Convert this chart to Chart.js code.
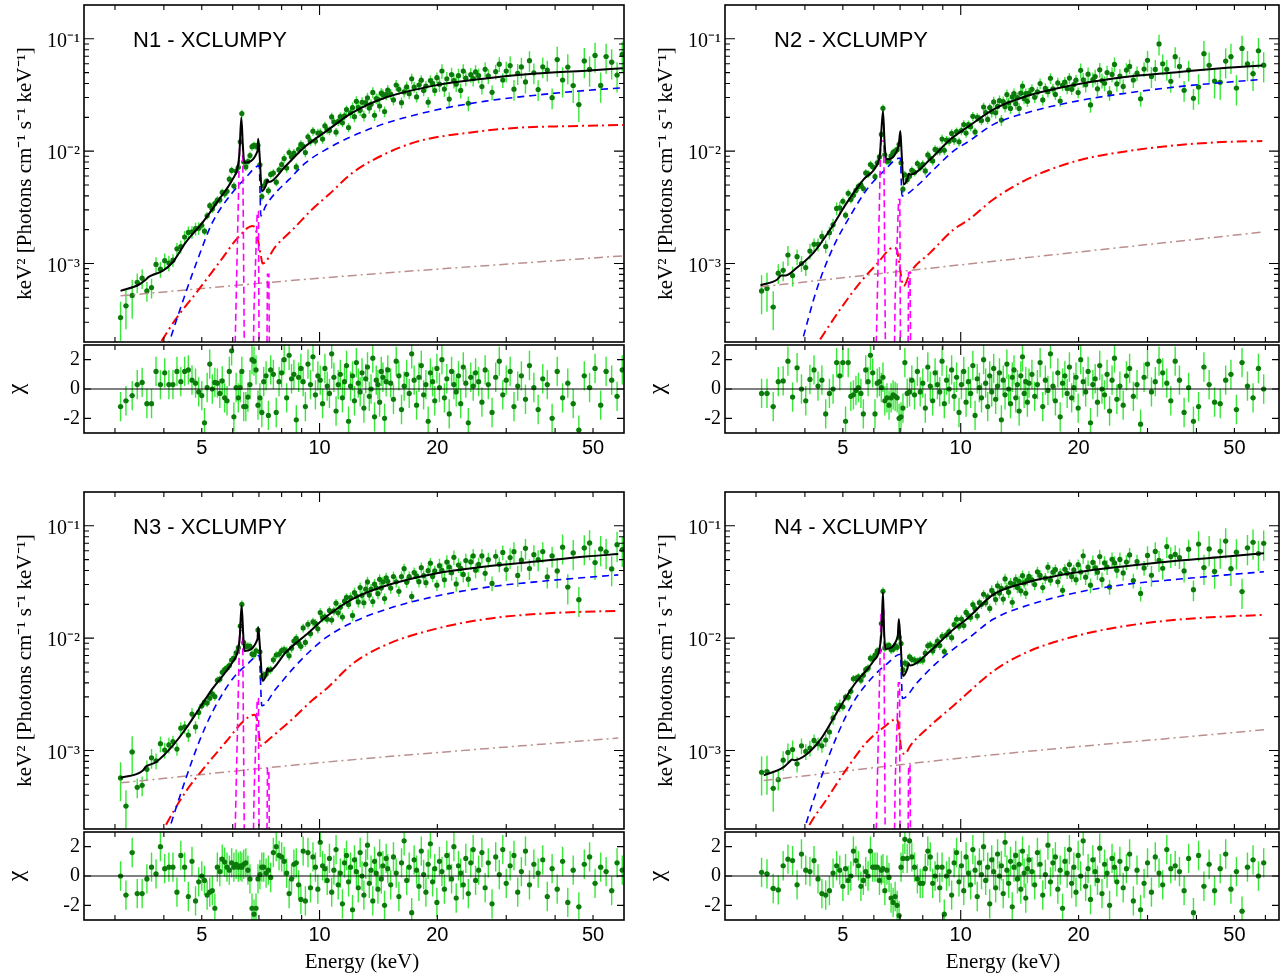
<!DOCTYPE html>
<html><head><meta charset="utf-8">
<script src="https://cdn.jsdelivr.net/npm/chart.js@4.4.1/dist/chart.umd.min.js"></script>
<style>
html,body{margin:0;padding:0;background:#fff;}
body{width:1288px;height:980px;position:relative;overflow:hidden;}
canvas{position:absolute;}
.ttl{position:absolute;font-family:"Liberation Sans",Arial,sans-serif;font-size:22px;line-height:22px;color:#000;white-space:nowrap;}
.xl{position:absolute;font-family:"Liberation Serif","Times New Roman",serif;font-size:21px;line-height:21px;color:#000;white-space:nowrap;transform:translateX(-50%);}
</style></head><body>
<script>
// ---------------- DATA (flux values in units of 1e-3 keV^2 Photons cm^-1 s^-1 keV^-1) ----------------
const FLUX_UNIT = 1e-3;
const panelTitles = ['N1 - XCLUMPY', 'N2 - XCLUMPY', 'N3 - XCLUMPY', 'N4 - XCLUMPY'];
const xTitle = 'Energy (keV)';
const yTitle = 'keV² [Photons cm⁻¹ s⁻¹ keV⁻¹]';
const chiTitle = 'χ';
const xTicks = [5, 10, 20, 50];
const xTickLabels = ['5', '10', '20', '50'];
const yTicks = [1e-3, 1e-2, 1e-1];
const yTickLabels = ['10⁻³', '10⁻²', '10⁻¹'];
const chiTicks = [-2, 0, 2];
const chiTickLabels = ['-2', '0', '2'];
const xMinorTicks = [3, 4, 5, 6, 7, 8, 9, 20, 30, 40, 50, 60];
const xMajorTicks = [10];
// relative 1-sigma size of the spectral error bars, by energy band [upper edge keV, fraction]
const relErrBands = [[3.4,0.38],[3.8,0.20],[4.2,0.16],[5.0,0.13],[8.0,0.08],[12,0.09],[20,0.11],[30,0.15],[40,0.21],[70,0.30]];

const energyKeV = [
 3.10,3.20,3.32,3.42,3.52,3.62,3.72,3.82,3.92,4.02,4.12,4.22,4.32,4.42,4.52,4.62,4.72,4.82,4.91,5.00,
 5.08,5.16,5.24,5.32,5.40,5.48,5.56,5.64,5.72,5.80,5.88,5.96,
 6.04,6.12,6.20,6.27,6.33,6.40,6.48,6.56,6.64,6.72,6.80,6.88,6.96,7.04,7.12,7.20,7.30,7.40,7.50,7.62,7.75,7.88,
 8.00,8.12,8.24,8.36,8.48,8.60,8.72,8.84,8.96,9.08,9.20,9.34,9.48,9.62,9.76,9.90,
 10.04,10.18,10.32,10.46,10.60,10.74,10.88,11.02,11.16,11.30,11.44,11.58,11.72,11.86,12.00,12.14,12.28,12.42,12.56,12.70,12.84,12.98,13.12,13.26,13.40,13.54,13.68,13.82,13.96,14.10,14.24,14.38,14.52,14.66,14.80,14.94,
 15.20,15.45,15.70,15.95,16.20,16.45,16.70,16.95,17.20,17.45,17.70,17.95,18.20,18.45,18.70,18.95,19.20,19.45,19.70,19.95,20.25,20.55,20.85,21.15,21.45,21.75,22.05,22.35,22.65,22.95,23.30,23.65,24.00,24.35,24.70,25.05,
 25.5,26.0,26.5,27.0,27.6,28.2,28.8,29.4,30.0,30.7,31.4,32.1,32.8,33.6,34.4,35.3,36.2,37.2,38.2,39.3,
 40.5,41.8,43.1,44.5,46.0,47.5,49.0,50.6,52.3,54.0,55.8,57.6,59.4];

const fluxN1 = [
 0.33,0.42,0.52,0.68,0.74,0.57,0.61,0.98,0.89,1.06,1.01,1.07,1.35,1.41,1.72,1.89,1.91,2.04,2.06,2.19,
 1.94,2.66,3.27,3.06,3.42,3.67,3.68,4.29,4.17,4.39,5.63,6.74,
 4.89,6.66,7.19,12.1,21.6,8.03,7.23,8.08,9.14,10.97,11.24,11.06,11.26,7.57,3.94,4.91,5.35,4.44,6.21,6.38,5.29,6.81,
 7.59,8.60,7.07,9.73,8.89,9.60,7.24,10.38,11.48,11.08,9.72,13.41,12.26,15.07,12.29,14.5,
 14.56,12.8,16.77,15.5,15.26,20.16,18.13,14.74,18.43,20.31,17.9,20.61,23.43,16.22,21.96,24.38,20.28,27.76,24.36,23.08,27.24,20.66,26.99,29.85,24.16,26.1,33.3,20.84,29.37,28.9,25.24,32.83,32.0,22.5,31.9,34.97,
 32.2,28.6,38.8,35.5,27.0,33.7,37.3,32.5,44.0,37.1,30.4,38.8,42.8,34.6,38.0,27.3,42.5,40.2,34.6,45.1,39.5,51.7,35.7,44.1,29.1,48.0,42.4,39.5,47.0,34.7,51.6,44.6,26.7,47.9,44.2,50.7,
 47.0,37.6,53.5,46.7,33.4,51.1,59.5,43.0,51.7,57.8,35.6,49.2,56.2,41.3,63.9,49.8,35.4,56.3,52.7,29.9,
 65.3,43.0,56.0,38.4,26.0,63.6,53.4,71.1,38.5,69.6,62.0,47.6,72.6];
const chiN1 = [
 -1.2,-0.8,-0.45,0.3,0.45,-1.0,-1.0,1.2,0.3,1.1,0.3,0.3,1.2,0.5,1.2,1.3,0.6,0.4,-0.2,-0.45,
 -2.3,0.1,1.7,0.0,0.45,0.4,-0.3,0.55,-0.6,-0.8,1.2,2.6,
 -1.9,0.1,-0.6,0.1,1.2,-1.2,-1.2,-0.55,0.3,2.0,1.9,1.3,-1.1,-0.6,-1.6,0.5,0.9,-1.8,1.3,1.0,-1.6,0.5,
 1.1,2.0,-0.6,2.3,0.7,1.0,-2.1,0.8,1.4,0.5,-1.2,1.7,0.3,2.2,-0.4,0.9,
 0.6,-1.0,1.4,0.2,-0.3,2.4,0.8,-1.5,0.3,1.0,-0.6,0.5,1.6,-2.2,0.2,0.9,-0.8,1.8,0.4,-0.2,1.1,-1.3,0.7,1.5,-0.5,0.0,2.1,-1.9,0.6,0.3,-0.9,1.2,0.8,-2.0,0.5,1.3,
 0.4,-0.7,1.9,0.9,-1.4,0.2,1.0,-0.3,2.4,0.6,-1.1,0.8,1.6,-0.4,0.3,-2.2,1.1,0.5,-0.8,1.4,0.1,2.0,-0.6,0.7,-1.7,1.2,0.3,-0.2,0.9,-1.0,1.5,0.4,-2.3,0.8,0.2,1.1,
 0.5,-0.9,1.3,0.3,-1.6,0.8,1.9,-0.4,0.6,1.2,-1.2,0.2,0.9,-0.7,1.6,0.1,-1.4,0.7,0.3,-2.0,
 1.2,-0.6,0.4,-1.0,-2.8,0.9,0.1,1.4,-1.1,1.2,0.6,-0.5,1.3];

const fluxN2 = [
 0.57,0.60,0.41,0.82,0.87,1.19,0.78,1.15,1.00,0.92,1.29,1.48,1.48,1.74,1.42,1.88,2.21,3.09,3.13,3.58,
 2.69,4.21,3.71,4.04,4.47,4.85,5.00,4.64,6.40,6.27,7.60,7.25,
 5.93,7.87,8.88,14.1,24.1,9.28,8.14,8.20,9.08,9.74,10.03,10.31,11.5,7.88,4.59,6.16,5.55,5.99,6.75,6.46,7.76,7.17,
 7.61,6.67,9.26,8.63,8.18,10.37,10.09,10.07,12.82,10.16,12.53,12.26,14.38,12.54,14.9,12.1,
 15.24,17.25,14.47,17.22,16.49,20.42,14.84,20.01,19.49,18.71,24.72,22.05,19.18,24.42,22.45,27.45,21.98,24.99,28.19,18.92,27.55,24.85,31.91,26.9,24.02,30.36,32.48,26.45,29.94,24.03,32.8,37.92,29.31,32.54,27.74,32.8,
 35.5,30.17,33.67,40.0,28.59,36.23,33.79,44.56,35.84,32.0,40.53,27.95,38.46,41.11,36.15,44.72,35.54,39.16,42.85,33.25,52.4,43.2,39.1,48.4,25.8,43.3,46.1,35.9,53.0,42.5,40.2,50.1,33.1,48.2,59.2,39.7,
 46.6,37.7,52.7,56.8,43.0,49.4,29.2,53.8,64.3,46.3,53.4,90.0,59.9,53.5,41.9,69.4,56.8,34.8,52.7,29.5,
 37.2,73.7,58.1,42.1,41.0,63.3,69.4,36.5,82.1,59.9,48.9,78.3,58.3];
const chiN2 = [
 -0.3,-0.3,-1.2,0.5,0.55,1.9,-0.55,1.45,0.0,-0.8,0.65,1.3,0.2,0.6,-1.7,-0.3,0.0,1.8,0.9,1.8,
 -2.2,1.8,-0.5,-0.4,-0.1,0.1,-0.3,-1.7,1.3,0.5,2.3,1.1,
 -1.7,0.4,0.5,0.1,0.8,-0.8,-0.6,-1.1,-0.6,-0.4,-0.5,-0.6,-2.0,-1.9,-1.3,1.8,-0.3,-0.2,0.6,-0.4,1.2,-0.2,
 0.4,-1.3,1.5,0.2,-0.8,1.1,0.3,-0.2,1.9,-1.0,0.6,0.0,1.3,-0.5,0.8,-1.6,
 0.3,1.2,-0.9,0.5,-0.3,1.6,-1.8,0.7,0.1,-0.6,2.0,0.4,-1.2,0.9,-0.2,1.4,-0.7,0.2,1.1,-2.1,0.6,-0.4,1.7,0.0,-1.0,0.8,1.3,-0.6,0.3,-1.5,0.9,2.2,-0.3,0.5,-0.9,0.4,
 1.0,-0.5,0.3,1.8,-1.2,0.6,-0.1,2.4,0.2,-0.8,1.1,-1.9,0.4,0.9,-0.3,1.5,-0.6,0.1,0.8,-1.3,2.0,0.5,-0.2,1.2,-2.3,0.3,0.7,-0.9,1.6,0.0,-0.4,1.0,-1.5,0.6,2.1,-0.7,
 0.2,-1.1,0.9,1.4,-0.5,0.3,-2.4,0.8,1.7,-0.2,0.5,1.9,1.1,0.4,-0.8,1.9,0.6,-1.6,0.1,-2.2,
 -1.2,1.5,0.3,-0.9,-1.0,0.6,1.0,-1.4,1.8,0.2,-0.6,1.4,0.0];

const fluxN3 = [
 0.57,0.32,0.97,0.47,0.49,0.68,0.86,0.81,1.15,1.01,1.12,1.20,1.03,1.58,1.62,1.37,2.11,1.62,2.18,2.50,
 2.69,2.64,2.92,3.20,3.02,4.22,4.31,4.97,5.26,5.43,5.70,6.38,
 6.64,7.40,8.22,12.8,20.0,9.11,8.43,8.50,8.45,7.22,7.12,7.70,11.8,7.57,4.53,4.69,4.78,5.18,5.25,6.41,7.08,7.21,
 7.73,7.89,7.67,6.96,8.14,9.43,9.98,9.03,8.46,12.34,9.17,13.29,10.95,13.96,13.57,12.1,
 16.9,15.22,15.45,14.74,17.62,14.47,17.46,20.46,16.82,18.83,15.42,21.4,23.03,19.97,22.99,15.93,25.39,23.65,21.01,28.19,24.06,20.66,27.29,31.68,24.16,27.35,21.17,30.24,28.06,24.89,33.39,28.01,31.65,22.5,34.43,32.07,
 27.9,35.4,31.7,26.1,35.3,41.5,31.4,35.4,23.5,38.4,35.9,31.8,42.4,36.0,31.2,39.9,46.5,35.3,39.8,29.6,44.2,40.2,33.1,47.6,43.0,38.2,52.4,30.4,44.8,41.8,36.9,49.0,33.5,47.7,54.0,40.2,
 45.3,54.0,37.8,50.0,30.7,53.6,45.4,58.0,40.8,52.1,58.9,36.2,49.4,63.0,41.7,55.4,50.0,59.0,35.1,53.9,
 39.7,64.5,28.5,57.4,22.0,63.5,70.4,47.1,62.3,58.7,41.3,68.0,61.5];
const chiN3 = [
 0.0,-1.3,1.6,-1.2,-1.2,-0.2,0.6,0.15,2.0,0.5,0.6,0.6,-1.1,1.4,0.6,-1.4,1.0,-1.7,-0.4,0.0,
 -0.3,-1.3,-1.1,-1.0,-2.2,0.6,0.3,1.15,0.95,0.6,0.4,0.9,
 0.6,0.8,0.6,0.7,0.6,0.8,0.9,0.4,-0.2,-2.2,-2.6,-2.2,-0.2,0.1,0.6,0.6,0.2,0.4,-0.1,1.6,2.0,1.4,
 1.3,1.0,0.2,-1.2,-0.2,0.8,0.9,-0.6,-1.6,1.7,-1.7,1.6,-0.8,1.3,0.6,-0.9,
 2.3,0.7,0.5,-0.3,1.2,-1.1,0.4,1.8,-0.6,0.2,-1.9,0.9,1.4,-0.4,0.6,-2.3,1.1,0.3,-0.8,1.6,0.0,-1.3,0.8,2.1,-0.5,0.4,-1.7,1.0,0.2,-0.9,1.5,-0.2,0.7,-2.0,1.2,0.5,
 -0.6,1.3,0.2,-1.4,0.9,2.4,-0.3,0.6,-2.5,1.1,0.4,-0.7,1.7,0.1,-1.1,0.8,2.2,-0.4,0.5,-1.8,1.0,0.3,-0.9,1.4,0.6,-0.2,2.0,-1.5,0.7,0.2,-0.6,1.2,-1.2,0.9,1.8,-0.3,
 0.4,1.6,-0.8,0.9,-1.9,1.3,0.1,1.8,-0.5,0.7,1.4,-1.1,0.3,1.7,-0.6,0.8,0.2,1.1,-1.4,0.5,
 -0.9,1.0,-1.8,0.4,-2.1,0.8,1.3,-0.5,0.6,0.3,-1.0,0.9,0.4];

const fluxN4 = [
 0.64,0.65,0.46,0.55,0.82,0.96,1.02,0.76,1.10,0.98,1.05,1.23,1.15,1.10,1.24,1.46,1.95,2.37,2.52,2.45,
 2.98,2.98,3.36,4.35,4.38,4.52,4.22,4.67,5.24,5.40,6.63,6.53,
 7.06,7.69,7.78,13.5,26.1,8.19,8.50,8.62,7.87,7.96,8.57,8.28,10.2,8.96,5.21,6.00,5.87,6.81,6.48,6.38,6.24,6.40,
 6.37,7.35,8.54,8.70,7.70,8.50,9.43,8.60,10.39,7.59,10.7,11.43,10.09,13.19,14.73,12.77,
 14.77,12.96,16.95,15.91,15.32,19.94,18.3,15.74,20.71,20.0,24.6,20.66,23.32,18.39,26.6,24.86,22.06,29.26,25.2,27.75,22.26,33.69,28.09,25.57,30.91,20.87,30.34,33.4,28.21,32.11,26.4,36.0,31.03,25.09,32.86,35.43,
 33.05,29.97,38.98,36.17,28.19,34.21,42.82,32.84,38.67,40.69,31.76,37.62,26.64,40.99,37.79,45.24,35.34,40.63,33.16,45.08,38.8,54.1,34.9,42.8,29.6,47.2,42.2,38.7,53.3,33.2,46.7,43.0,28.6,50.4,46.7,40.2,
 50.2,38.1,47.6,55.1,32.6,48.1,25.0,42.2,54.5,36.3,59.1,49.2,41.9,65.3,53.2,55.6,52.2,39.7,62.0,27.0,
 68.9,42.5,62.3,39.3,59.4,73.2,41.5,58.3,26.0,63.7,71.4,56.6,69.9];
const chiN4 = [
 0.25,0.15,-0.85,-0.95,0.7,1.15,1.05,-0.6,1.5,0.4,0.3,1.05,-0.2,-1.2,-1.3,-1.0,0.2,0.7,0.4,-0.7,
 0.5,-0.3,0.0,1.7,1.05,0.7,-0.7,-0.3,0.3,0.0,1.7,0.6,
 0.6,0.6,-0.3,0.4,0.5,-1.0,0.4,-0.1,-1.5,-1.8,-1.4,-2.0,-2.7,0.6,1.2,2.5,1.2,2.4,1.3,0.6,-0.2,-0.5,
 -0.5,0.5,1.7,1.3,-0.5,0.0,0.6,-0.8,0.6,-2.6,0.0,0.3,-1.3,0.9,1.6,-0.4,
 0.7,-1.0,1.3,0.2,-0.6,1.8,0.4,-1.4,0.9,0.1,2.0,-0.3,0.6,-1.9,1.1,0.3,-0.8,1.5,0.0,0.7,-1.2,2.3,0.4,-0.5,1.0,-2.1,0.6,1.4,-0.2,0.8,-0.9,1.7,0.2,-1.5,0.5,1.1,
 0.3,-0.6,1.6,0.8,-1.3,0.1,2.1,-0.4,0.9,1.3,-0.9,0.4,-2.2,1.0,0.2,1.8,-0.5,0.6,-1.1,1.4,0.0,2.4,-0.7,0.5,-1.6,1.1,0.3,-0.3,1.9,-1.2,0.8,0.2,-2.0,1.2,0.6,-0.4,
 1.0,-0.8,0.5,1.5,-1.7,0.4,-2.3,-0.5,0.9,-1.1,1.3,0.2,-0.6,1.8,0.5,0.7,0.3,-1.0,1.2,-2.5,
 1.4,-0.7,0.8,-1.0,0.5,1.5,-0.9,0.3,-2.4,0.6,1.1,0.0,0.9];

// model components [energy keV, flux x1e-3]
const totalN1 = [[3.10,0.57],[3.46,0.65],[3.60,0.72],[3.66,0.76],[3.71,0.78],[3.97,0.86],[4.21,1.02],[4.55,1.54],[5.02,2.31],[5.54,3.73],[5.99,5.6],[6.17,7.1],[6.24,9.5],[6.31,19.9],[6.37,11.0],[6.42,7.9],[6.94,10.0],[6.97,12.9],[7.03,9.0],[7.12,4.4],[7.30,5.0],[7.36,5.6],[7.42,5.3],[8.2,7.4],[9.22,11.1],[10.47,15.3],[12.13,22.0],[14.76,30.0],[19.8,38.5],[26.6,44.4],[35.7,49.0],[47.9,52.0],[59.6,54.8]];
const blueN1 = [[4.0,0.14],[4.13,0.2],[4.55,0.55],[4.92,1.17],[5.32,2.31],[5.99,4.28],[6.42,5.6],[7.01,7.4],[7.08,2.65],[7.28,3.25],[7.73,4.28],[8.36,5.6],[9.22,7.9],[10.47,10.5],[12.13,13.6],[14.76,17.7],[19.8,23.2],[26.6,27.9],[35.7,31.5],[47.9,34.7],[59.6,36.6]];
const redN1 = [[3.70,0.145],[3.93,0.2],[4.29,0.32],[4.92,0.59],[5.54,1.02],[6.24,1.76],[6.74,2.16],[6.87,2.0],[7.08,1.17],[7.15,1.0],[7.73,1.43],[8.53,2.0],[9.58,3.04],[10.58,4.13],[12.13,6.4],[14.76,9.5],[17.96,12.3],[24.1,14.6],[32.4,16.2],[43.5,16.7],[59.6,17.1]];
const brownN1 = [[3.10,0.515],[10.47,0.75],[59.6,1.17]];
const fekaN1 = [[6.06,0.1],[6.25,12.5],[6.36,12.5],[6.43,0.1]];
const fekbN1 = [[6.76,0.1],[6.80,0.4],[6.93,2.9],[6.98,2.9],[7.01,0.1]];
const nikaN1 = [[7.33,0.1],[7.36,0.8],[7.42,0.8],[7.45,0.1]];

const totalN2 = [[3.08,0.64],[3.40,0.72],[3.48,0.78],[3.56,0.78],[3.82,0.92],[4.21,1.25],[4.64,2.0],[5.12,3.48],[5.65,5.6],[6.11,7.6],[6.22,9.5],[6.33,22.8],[6.39,12.0],[6.45,8.45],[6.94,11.1],[7.01,15.1],[7.06,10.0],[7.15,5.06],[7.30,5.6],[7.36,6.3],[7.43,6.2],[8.36,8.45],[9.40,12.7],[10.47,16.6],[12.13,23.6],[14.76,31.0],[19.8,39.3],[26.6,46.0],[35.7,50.5],[47.9,55.2],[58.9,58.0]];
const blueN2 = [[3.82,0.14],[3.93,0.2],[4.29,0.59],[4.74,1.43],[5.22,2.65],[5.76,4.57],[6.36,6.65],[7.01,8.7],[7.08,4.0],[7.73,4.9],[8.36,6.4],[9.58,10.0],[10.47,12.2],[12.13,17.3],[14.76,22.0],[19.8,27.9],[26.6,32.9],[35.7,37.4],[47.9,41.1],[58.9,43.5]];
const redN2 = [[4.10,0.15],[4.33,0.2],[4.92,0.39],[5.54,0.68],[6.11,0.99],[6.74,1.39],[6.85,1.35],[7.15,0.63],[7.43,0.83],[8.36,1.25],[9.58,2.0],[10.47,2.45],[12.13,3.73],[14.76,5.6],[19.8,8.2],[26.6,10.0],[35.7,11.3],[47.9,12.1],[58.9,12.3]];
const brownN2 = [[3.08,0.62],[10.47,0.99],[58.9,1.9]];
const fekaN2 = [[6.06,0.1],[6.25,12.3],[6.36,12.3],[6.43,0.1]];
const fekbN2 = [[6.76,0.1],[6.80,0.5],[6.94,3.7],[6.99,3.7],[7.02,0.1]];
const nikaN2 = [[7.33,0.1],[7.36,0.83],[7.42,0.83],[7.46,0.1]];

const totalN3 = [[3.10,0.57],[3.53,0.66],[3.60,0.72],[3.66,0.74],[3.82,0.79],[4.21,1.10],[4.55,1.56],[4.92,2.34],[5.32,3.53],[5.99,6.1],[6.17,7.5],[6.25,10.0],[6.32,19.5],[6.38,11.0],[6.42,7.7],[6.94,9.8],[6.97,12.5],[7.03,9.0],[7.15,4.17],[7.30,4.7],[7.36,5.4],[7.43,5.1],[8.2,7.5],[9.40,11.3],[10.47,15.8],[12.13,22.3],[14.76,29.3],[19.8,37.7],[26.6,43.5],[35.7,48.1],[47.9,53.3],[58.0,56.0]];
const blueN3 = [[4.0,0.14],[4.13,0.2],[4.55,0.56],[4.92,1.19],[5.32,2.19],[5.99,4.33],[6.48,5.7],[7.01,7.0],[7.12,2.5],[7.73,3.53],[8.53,5.3],[9.58,8.0],[10.47,10.3],[12.13,13.8],[14.76,18.0],[19.8,23.6],[26.6,28.3],[35.7,31.7],[47.9,34.7],[58.0,36.6]];
const redN3 = [[3.85,0.15],[4.0,0.2],[4.55,0.43],[5.12,0.73],[5.76,1.19],[6.36,1.79],[6.81,2.08],[6.92,1.9],[7.08,1.1],[7.20,1.15],[7.43,1.26],[8.53,1.91],[9.58,2.8],[10.47,3.6],[12.13,5.9],[14.76,8.7],[19.8,12.1],[26.6,14.8],[35.7,16.4],[47.9,17.2],[58.0,17.5]];
const brownN3 = [[3.10,0.515],[10.47,0.79],[58.0,1.29]];
const fekaN3 = [[6.06,0.1],[6.25,11.7],[6.36,11.7],[6.43,0.1]];
const fekbN3 = [[6.76,0.1],[6.80,0.4],[6.93,2.9],[6.98,2.9],[7.01,0.1]];
const nikaN3 = [[7.33,0.1],[7.36,0.69],[7.42,0.69],[7.45,0.1]];

const totalN4 = [[3.14,0.60],[3.53,0.71],[3.66,0.80],[3.71,0.83],[3.76,0.82],[4.05,0.93],[4.39,1.26],[4.83,2.19],[5.32,3.77],[5.99,6.3],[6.20,8.0],[6.28,12.0],[6.33,25.5],[6.37,12.0],[6.42,8.0],[6.90,10.2],[6.95,14.8],[7.01,10.0],[7.12,4.6],[7.30,5.3],[7.36,5.9],[7.43,5.7],[8.36,7.7],[9.40,11.3],[10.47,15.3],[12.13,24.5],[14.76,31.3],[19.8,38.5],[26.6,43.9],[35.7,48.9],[47.9,53.3],[59.5,57.0]];
const blueN4 = [[3.88,0.14],[3.99,0.2],[4.39,0.56],[4.83,1.35],[5.32,2.69],[5.99,4.6],[6.48,5.9],[7.01,7.2],[7.10,2.9],[7.73,4.0],[8.53,5.7],[9.58,8.0],[10.47,10.0],[12.13,14.8],[14.76,19.5],[19.8,25.5],[26.6,30.2],[35.7,33.4],[47.9,36.6],[59.5,39.0]];
const redN4 = [[3.90,0.15],[4.05,0.2],[4.55,0.37],[5.12,0.69],[5.76,1.19],[6.36,1.61],[6.87,1.91],[7.08,0.97],[7.21,0.93],[7.43,1.1],[8.36,1.66],[9.58,2.5],[10.47,3.3],[12.13,5.1],[14.76,7.5],[19.8,10.5],[26.6,12.9],[35.7,14.6],[47.9,15.6],[59.5,16.1]];
const brownN4 = [[3.14,0.54],[10.47,0.87],[59.5,1.53]];
const fekaN4 = [[6.06,0.1],[6.26,17.6],[6.36,17.6],[6.42,0.1]];
const fekbN4 = [[6.76,0.1],[6.80,0.5],[6.93,4.0],[6.98,4.0],[7.00,0.1]];
const nikaN4 = [[7.33,0.1],[7.36,0.74],[7.42,0.74],[7.45,0.1]];

// ---------------- LAYOUT / STYLE ----------------
const panels = [
  {title: panelTitles[0], flux: fluxN1, chi: chiN1, total: totalN1, blue: blueN1, red: redN1, brown: brownN1, lines: [fekaN1, fekbN1, nikaN1], xMax: 60, areaLeft: 84, specTop: 5, areaW: 540, showX: false},
  {title: panelTitles[1], flux: fluxN2, chi: chiN2, total: totalN2, blue: blueN2, red: redN2, brown: brownN2, lines: [fekaN2, fekbN2, nikaN2], xMax: 65, areaLeft: 725, specTop: 5, areaW: 554, showX: false},
  {title: panelTitles[2], flux: fluxN3, chi: chiN3, total: totalN3, blue: blueN3, red: redN3, brown: brownN3, lines: [fekaN3, fekbN3, nikaN3], xMax: 60, areaLeft: 84, specTop: 492, areaW: 540, showX: true},
  {title: panelTitles[3], flux: fluxN4, chi: chiN4, total: totalN4, blue: blueN4, red: redN4, brown: brownN4, lines: [fekaN4, fekbN4, nikaN4], xMax: 65, areaLeft: 725, specTop: 492, areaW: 554, showX: true}
];
const AXW = 84, PADT = 5, PADR = 6, SPECH = 338, RESH = 90, XAXH = 30;
const SERIF = '"Liberation Serif","Times New Roman",serif';
const SANS = '"Liberation Sans",Arial,sans-serif';
const POINT_COLOR = '#0b7a0b';
const BAR_COLOR = 'rgba(20,228,20,0.85)';

Chart.defaults.color = '#000';

function relErrAt(e) { for (const [lim, r] of relErrBands) if (e < lim) return r; return relErrBands[relErrBands.length - 1][1]; }
function binEdges(i) {
  const n = energyKeV.length, e = energyKeV[i];
  const hi = i < n - 1 ? Math.sqrt(e * energyKeV[i + 1]) : e * e / Math.sqrt(e * energyKeV[i - 1]);
  const lo = i > 0 ? Math.sqrt(e * energyKeV[i - 1]) : e * e / hi;
  return [lo, hi];
}
const toPts = arr => arr.map(([e, f]) => ({x: e, y: f * FLUX_UNIT}));
function lineDs(pts, color, width, dash, smooth) {
  return {data: toPts(pts), showLine: true, pointRadius: 0, borderColor: color, backgroundColor: color,
    borderWidth: width, borderDash: dash, cubicInterpolationMode: smooth ? 'monotone' : 'default', tension: 0, clip: 0, fill: false};
}
function errPlugin(bars, dsIndex) {
  return {id: 'errbars', beforeDatasetDraw(chart, args) {
    if (args.index !== dsIndex) return;
    const {ctx, chartArea: a, scales: {x, y}} = chart;
    ctx.save();
    ctx.beginPath(); ctx.rect(a.left, a.top, a.right - a.left, a.bottom - a.top); ctx.clip();
    ctx.strokeStyle = BAR_COLOR; ctx.lineWidth = 1.4;
    ctx.beginPath();
    for (const b of bars) {
      const px = x.getPixelForValue(b.x), py = y.getPixelForValue(b.y);
      ctx.moveTo(px, y.getPixelForValue(b.yl)); ctx.lineTo(px, y.getPixelForValue(b.yh));
      ctx.moveTo(x.getPixelForValue(b.xl), py); ctx.lineTo(x.getPixelForValue(b.xh), py);
    }
    ctx.stroke(); ctx.restore();
  }};
}
function framePlugin(kind) {
  return {id: 'frame', afterDraw(chart) {
    const {ctx, chartArea: a, scales: {x, y}} = chart;
    ctx.save();
    ctx.strokeStyle = '#000'; ctx.lineWidth = 1.1;
    ctx.beginPath();
    const xt = (v, len) => { if (v <= x.min || v >= x.max) return; const px = x.getPixelForValue(v);
      ctx.moveTo(px, a.top); ctx.lineTo(px, a.top + len); ctx.moveTo(px, a.bottom); ctx.lineTo(px, a.bottom - len); };
    const yt = (v, len) => { if (v <= y.min || v >= y.max) return; const py = y.getPixelForValue(v);
      ctx.moveTo(a.left, py); ctx.lineTo(a.left + len, py); ctx.moveTo(a.right, py); ctx.lineTo(a.right - len, py); };
    xMinorTicks.forEach(v => xt(v, 5));
    xMajorTicks.forEach(v => xt(v, 10));
    if (kind === 'spec') {
      for (let d = 1e-4; d < 1; d *= 10) for (let k = 2; k <= 9; k++) yt(k * d, 5);
      yTicks.forEach(v => yt(v, 10));
    } else {
      chiTicks.forEach(v => yt(v, 7));
    }
    ctx.stroke();
    if (kind === 'res') {
      ctx.lineWidth = 1.2; ctx.beginPath();
      const p0 = y.getPixelForValue(0); ctx.moveTo(a.left, p0); ctx.lineTo(a.right, p0); ctx.stroke();
    }
    ctx.lineWidth = 1.6;
    ctx.strokeRect(a.left, a.top, a.right - a.left, a.bottom - a.top);
    ctx.restore();
  }};
}
function makeCanvas(left, top, w, h) {
  const c = document.createElement('canvas');
  c.width = w; c.height = h;
  c.style.left = left + 'px'; c.style.top = top + 'px';
  c.style.width = w + 'px'; c.style.height = h + 'px';
  document.body.appendChild(c);
  return c;
}
function baseOpts() {
  return {responsive: false, animation: false, devicePixelRatio: 1, events: [],
    plugins: {legend: {display: false}, tooltip: {enabled: false}, title: {display: false}}};
}
const fitY = s => { s.width = AXW; s.paddingTop = 0; s.paddingBottom = 0; };
const fitX = s => { s.height = XAXH; s.paddingLeft = 0; s.paddingRight = 0; };

function buildPanel(p) {
  const cw = AXW + p.areaW + PADR;
  const left = p.areaLeft - AXW;
  const bars = energyKeV.map((e, i) => {
    const [xl, xh] = binEdges(i); const f = p.flux[i] * FLUX_UNIT; const r = relErrAt(e);
    return {x: e, y: f, xl, xh, yl: f * (1 - r), yh: f * (1 + r)};
  });
  const rbars = energyKeV.map((e, i) => {
    const [xl, xh] = binEdges(i); const c = p.chi[i];
    return {x: e, y: c, xl, xh, yl: c - 1, yh: c + 1};
  });
  const specDatasets = [
    lineDs(p.total, '#000000', 2, [], true),
    lineDs(p.lines[0], '#ff00ff', 1.6, [7, 4], false),
    lineDs(p.lines[1], '#ff00ff', 1.6, [7, 4], false),
    lineDs(p.lines[2], '#ff00ff', 1.6, [7, 4], false),
    lineDs(p.blue, '#0000ff', 1.6, [7, 5], true),
    lineDs(p.red, '#ff0000', 2, [10, 4, 2, 4], true),
    lineDs(p.brown, '#bc8f8f', 1.5, [9, 4, 2, 4], true),
    {data: energyKeV.map((e, i) => ({x: e, y: p.flux[i] * FLUX_UNIT})), showLine: false, pointRadius: 2.6,
     pointStyle: 'circle', backgroundColor: POINT_COLOR, borderWidth: 0, clip: 0}
  ];
  const c1 = makeCanvas(left, p.specTop - PADT, cw, PADT + SPECH + 3);
  const o1 = baseOpts();
  o1.layout = {padding: {top: PADT, right: PADR, bottom: 3, left: 0}};
  o1.scales = {
    x: {type: 'logarithmic', min: 2.5, max: p.xMax, display: false},
    y: {type: 'logarithmic', min: 2e-4, max: 0.2,
      afterFit: fitY,
      afterBuildTicks: s => { s.ticks = yTicks.map(v => ({value: v})); },
      grid: {display: false, drawTicks: false}, border: {display: false},
      ticks: {callback: (v, i) => yTickLabels[i], font: {family: SERIF, size: 20}, color: '#000', padding: 4, autoSkip: false, labelOffset: 3},
      title: {display: true, text: yTitle, font: {family: SERIF, size: 21}, color: '#000', padding: {top: 13, bottom: 0}}
    }
  };
  new Chart(c1, {type: 'scatter', data: {datasets: specDatasets}, options: o1,
    plugins: [errPlugin(bars, specDatasets.length - 1), framePlugin('spec')]});

  const resDatasets = [
    {data: energyKeV.map((e, i) => ({x: e, y: p.chi[i]})), showLine: false, pointRadius: 2.6,
     pointStyle: 'circle', backgroundColor: POINT_COLOR, borderWidth: 0, clip: 0}
  ];
  const c2 = makeCanvas(left, p.specTop + SPECH - 2, cw, 2 + RESH + XAXH);
  const o2 = baseOpts();
  o2.layout = {padding: {top: 2, right: PADR, bottom: 0, left: 0}};
  o2.scales = {
    x: {type: 'logarithmic', min: 2.5, max: p.xMax,
      afterFit: fitX,
      afterBuildTicks: s => { s.ticks = xTicks.map(v => ({value: v})); },
      grid: {display: false, drawTicks: false}, border: {display: false},
      ticks: {callback: (v, i) => xTickLabels[i], font: {family: SANS, size: 20}, color: '#000', padding: 3, autoSkip: false, maxRotation: 0}
    },
    y: {type: 'linear', min: -3, max: 3,
      afterFit: fitY,
      afterBuildTicks: s => { s.ticks = chiTicks.map(v => ({value: v})); },
      grid: {display: false, drawTicks: false}, border: {display: false},
      ticks: {callback: (v, i) => chiTickLabels[i], font: {family: SERIF, size: 20}, color: '#000', padding: 4, autoSkip: false},
      title: {display: true, text: chiTitle, font: {family: SERIF, size: 24}, color: '#000', padding: {top: 2, bottom: 0}}
    }
  };
  new Chart(c2, {type: 'scatter', data: {datasets: resDatasets}, options: o2,
    plugins: [errPlugin(rbars, 0), framePlugin('res')]});

  const t = document.createElement('div');
  t.className = 'ttl'; t.textContent = p.title;
  t.style.left = (p.areaLeft + 49) + 'px'; t.style.top = (p.specTop + 23.6) + 'px';
  document.body.appendChild(t);
  if (p.showX) {
    const xl = document.createElement('div');
    xl.className = 'xl'; xl.textContent = xTitle;
    xl.style.left = (p.areaLeft + 278) + 'px'; xl.style.top = '951px';
    document.body.appendChild(xl);
  }
}
panels.forEach(buildPanel);
</script>
</body></html>
